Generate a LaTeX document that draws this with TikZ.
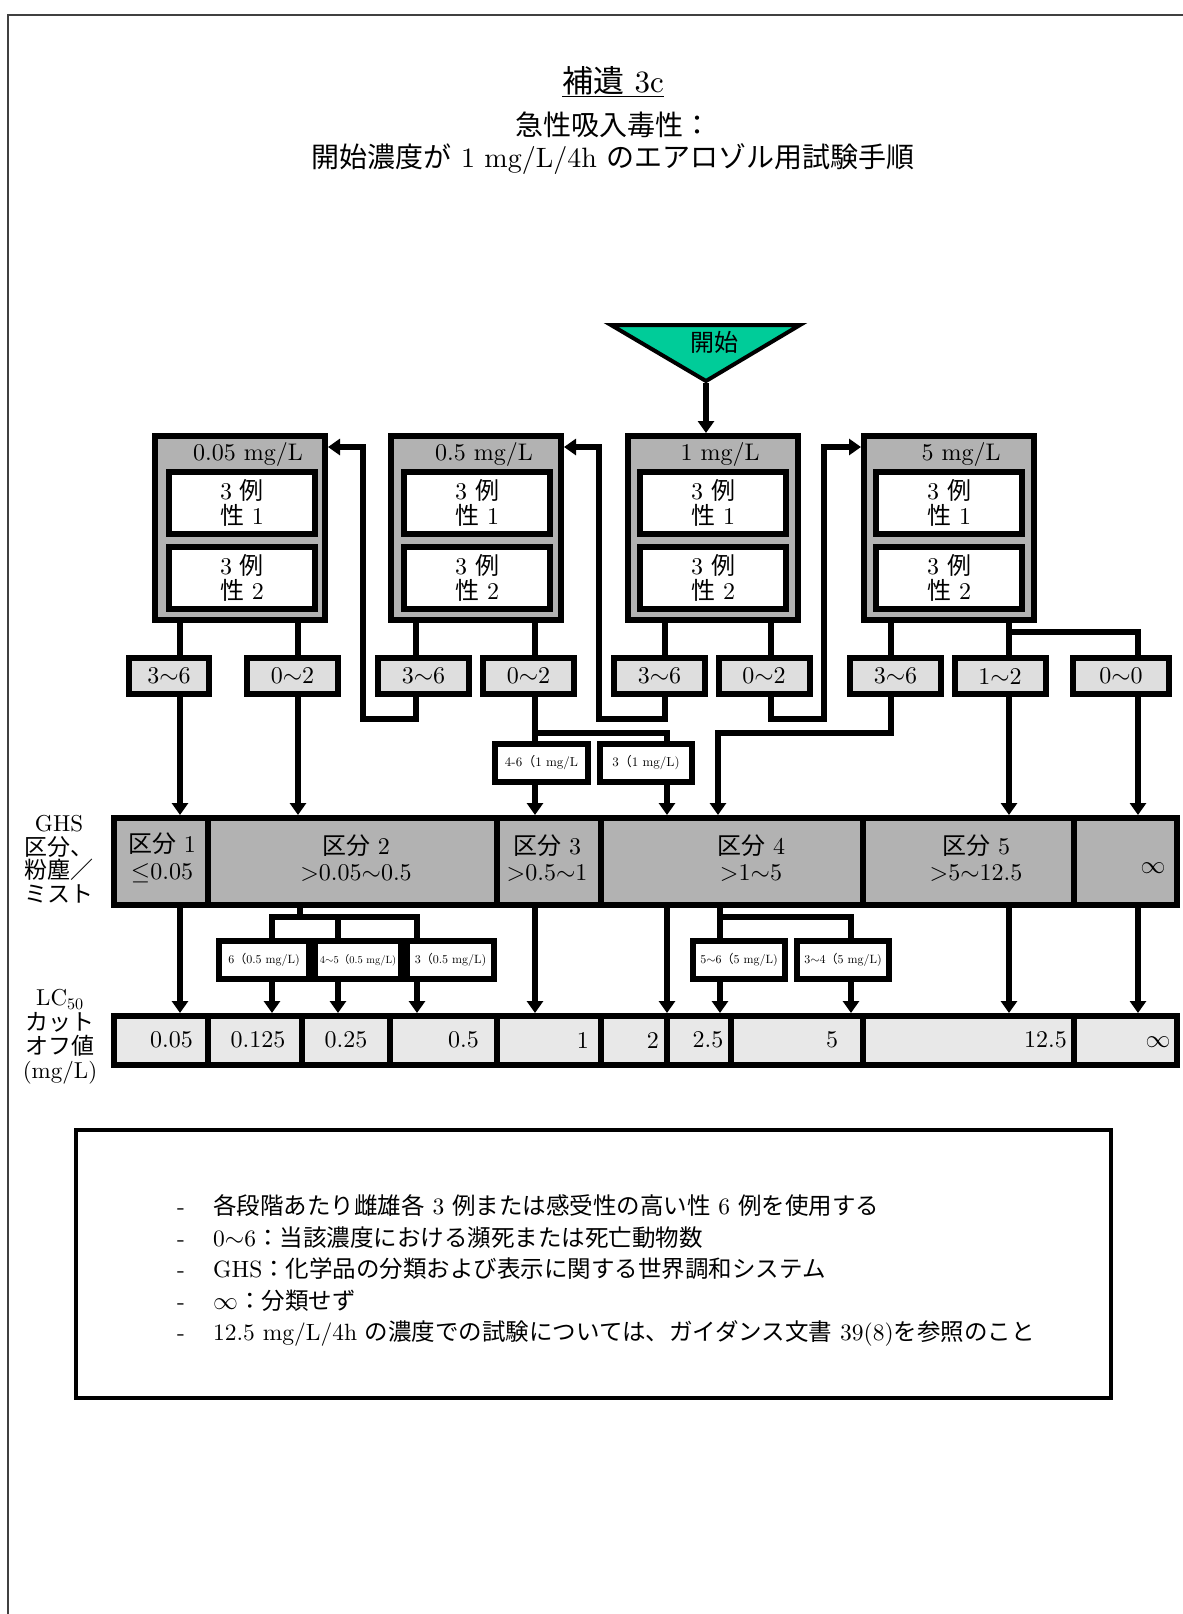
\documentclass[tikz,border=0pt]{standalone}
\usepackage{fontspec}
\setmainfont{lmroman10-regular.otf}
\newfontfamily\jp{Noto Sans CJK JP}
\usetikzlibrary{arrows.meta}
\definecolor{boxgray}{RGB}{178,178,178}
\definecolor{resgray}{RGB}{222,222,222}
\definecolor{lcgray}{RGB}{232,232,232}
\definecolor{startgreen}{RGB}{0,204,153}
\newcommand\fsz[2]{\fontsize{#1}{#2}\selectfont}
\begin{document}
\begin{tikzpicture}[x=1pt,y=-1pt,
  bigbox/.style={draw, line width=6pt, fill=boxgray, inner sep=0pt, minimum width=170pt, minimum height=184pt},
  inbox/.style={draw, line width=6pt, fill=white, inner sep=0pt, minimum width=146pt, minimum height=62pt, font=\fsz{24}{25}, align=center},
  resbox/.style={draw, line width=6pt, fill=resgray, inner sep=0pt, minimum width=91pt, minimum height=36pt, font=\fsz{24}{26}},
  smallbox/.style={draw, line width=6pt, fill=white, inner sep=0pt, minimum height=38pt},
  cell/.style={draw, line width=6pt, fill=boxgray, inner sep=0pt, minimum height=87pt},
  lccell/.style={draw, line width=6pt, fill=lcgray, inner sep=0pt, minimum height=49pt},
  lbl/.style={font=\fsz{24}{26.5}, inner sep=0pt, align=center},
  conn/.style={line width=6pt},
  arr/.style={conn, -{Triangle[length=12pt,width=16pt]}}]
\useasboundingbox (0,0) rectangle (1183,1614);
\fill[white] (0,0) rectangle (1183,1614);
\draw[line width=2pt, black!75] (8,1614) -- (8,15) -- (1183,15);

% title
\node[font=\fsz{31}{33}, inner sep=0pt] (title) at (613,82) {\underline{{\jp 補遺} 3c}};
\node[font=\fsz{28}{30}, inner sep=0pt] (sub1) at (613,125) {\jp 急性吸入毒性：};
\node[font=\fsz{28}{30}, inner sep=0pt] (sub2) at (613,159) {{\jp 開始濃度が} 1 mg/L/4h {\jp のエアロゾル用試験手順}};

% start
\draw[line width=4pt, fill=startgreen] (611,325) -- (800,325) -- (706,381) -- cycle;
\node[lbl] (start) at (714,342) {\jp 開始};
\coordinate (startapex) at (706,383);

% dose boxes
\node[bigbox] (boxA) at (240,528) {};
\node[lbl] (hA) at (248,454) {0.05 mg/L};
\node[inbox] (iA1) at (242,503) {3 {\jp 例}\\{\jp 性} 1};
\node[inbox] (iA2) at (242,577.5) {3 {\jp 例}\\{\jp 性} 2};
\node[bigbox] (boxB) at (476,528) {};
\node[lbl] (hB) at (484,454) {0.5 mg/L};
\node[inbox] (iB1) at (477,503) {3 {\jp 例}\\{\jp 性} 1};
\node[inbox] (iB2) at (477,577.5) {3 {\jp 例}\\{\jp 性} 2};
\node[bigbox] (boxC) at (713,528) {};
\node[lbl] (hC) at (720,454) {1 mg/L};
\node[inbox] (iC1) at (713,503) {3 {\jp 例}\\{\jp 性} 1};
\node[inbox] (iC2) at (713,577.5) {3 {\jp 例}\\{\jp 性} 2};
\node[bigbox] (boxD) at (949,528) {};
\node[lbl] (hD) at (961,454) {5 mg/L};
\node[inbox] (iD1) at (949,503) {3 {\jp 例}\\{\jp 性} 1};
\node[inbox] (iD2) at (949,577.5) {3 {\jp 例}\\{\jp 性} 2};

% result boxes
\node[resbox, minimum width=80pt] (rA1) at (169,676) {3$\sim$6};
\node[resbox] (rA2) at (292.5,676) {0$\sim$2};
\node[resbox] (rB1) at (423.5,676) {3$\sim$6};
\node[resbox] (rB2) at (528.5,676) {0$\sim$2};
\node[resbox] (rC1) at (659.5,676) {3$\sim$6};
\node[resbox] (rC2) at (764,676) {0$\sim$2};
\node[resbox] (rD1) at (895.5,676) {3$\sim$6};
\node[resbox] (rD2) at (1000,676) {1$\sim$2};
\node[resbox, minimum width=96pt] (rD3) at (1121,676) {0$\sim$0};

% small boxes (1 mg/L)
\node[smallbox, minimum width=93pt, font=\fsz{13}{14}] (s1) at (541.5,762.5) {4-6{\jp （}1 mg/L};
\node[smallbox, minimum width=92pt, font=\fsz{13}{14}] (s2) at (646,762.5) {3{\jp （}1 mg/L)};

% GHS category row
\node[cell, minimum width=94pt] (cat1) at (161,861.5) {};
\node[cell, minimum width=289pt] (cat2) at (352.5,861.5) {};
\node[cell, minimum width=104pt] (cat3) at (549,861.5) {};
\node[cell, minimum width=262pt] (cat4) at (732,861.5) {};
\node[cell, minimum width=211pt] (cat5) at (968.5,861.5) {};
\node[cell, minimum width=103pt] (cat6) at (1125.5,861.5) {};
\node[lbl] (ct1) at (162,858) {{\jp 区分} 1\\$\leq$0.05};
\node[lbl] (ct2) at (356,858) {{\jp 区分} 2\\>0.05$\sim$0.5};
\node[lbl] (ct3) at (547,858) {{\jp 区分} 3\\>0.5$\sim$1};
\node[lbl] (ct4) at (751,858) {{\jp 区分} 4\\>1$\sim$5};
\node[lbl] (ct5) at (976,858) {{\jp 区分} 5\\>5$\sim$12.5};
\node[lbl] (ct6) at (1153,868) {$\infty$};

% small boxes below categories
\node[smallbox, minimum width=90pt, font=\fsz{12}{13}] (t1) at (264,960) {6{\jp （}0.5 mg/L)};
\node[smallbox, minimum width=86pt, font=\fsz{10.5}{12}] (t2) at (358,960) {4$\sim$5{\jp （}0.5 mg/L)};
\node[smallbox, minimum width=87pt, font=\fsz{12}{13}] (t3) at (450.5,960) {3{\jp （}0.5 mg/L)};
\node[smallbox, minimum width=92pt, font=\fsz{12}{13}] (t4) at (739,960) {5$\sim$6{\jp （}5 mg/L)};
\node[smallbox, minimum width=92pt, font=\fsz{12}{13}] (t5) at (843,960) {3$\sim$4{\jp （}5 mg/L)};

% LC50 row
\node[lccell, minimum width=94pt] (lc1) at (161,1040.5) {};
\node[lccell, minimum width=94pt] (lc2) at (255,1040.5) {};
\node[lccell, minimum width=88pt] (lc3) at (346,1040.5) {};
\node[lccell, minimum width=107pt] (lc4) at (443.5,1040.5) {};
\node[lccell, minimum width=104pt] (lc5) at (549,1040.5) {};
\node[lccell, minimum width=66pt] (lc6) at (634,1040.5) {};
\node[lccell, minimum width=64pt] (lc7) at (699,1040.5) {};
\node[lccell, minimum width=132pt] (lc8) at (797,1040.5) {};
\node[lccell, minimum width=211pt] (lc9) at (968.5,1040.5) {};
\node[lccell, minimum width=103pt] (lc10) at (1125.5,1040.5) {};
\node[lbl, anchor=east] (v1) at (193,1040) {0.05};
\node[lbl] (v2) at (258,1040) {0.125};
\node[lbl] (v3) at (346,1040) {0.25};
\node[lbl, anchor=east] (v4) at (479,1040) {0.5};
\node[lbl, anchor=east] (v5) at (589,1040) {1};
\node[lbl, anchor=east] (v6) at (659,1040) {2};
\node[lbl] (v7) at (708,1040) {2.5};
\node[lbl] (v8) at (832,1040) {5};
\node[lbl, anchor=east] (v9) at (1067,1040) {12.5};
\node[lbl] (v10) at (1158,1042) {$\infty$};

% left labels
\node[lbl, font=\fsz{23}{23.5}] (ghslbl) at (59,859) {GHS\\{\jp 区分、}\\{\jp 粉塵／}\\{\jp ミスト}};
\node[lbl, font=\fsz{23}{24.2}] (lclbl) at (60,1037) {LC\textsubscript{50}\\{\jp カット}\\{\jp オフ値}\\(mg/L)};

% notes
\node[draw, line width=4pt, minimum width=1035pt, minimum height=268pt, inner sep=0pt] (notes) at (593.5,1264) {};
\node[anchor=west, align=left, font=\fsz{23.5}{31.5}, inner sep=0pt] (notetext) at (177,1270.5) {%
\makebox[36pt][l]{-}{\jp 各段階あたり雌雄各} 3 {\jp 例または感受性の高い性} 6 {\jp 例を使用する}\\
\makebox[36pt][l]{-}0$\sim$6{\jp ：当該濃度における瀕死または死亡動物数}\\
\makebox[36pt][l]{-}GHS{\jp ：化学品の分類および表示に関する世界調和システム}\\
\makebox[36pt][l]{-}$\infty${\jp ：分類せず}\\
\makebox[36pt][l]{-}12.5 mg/L/4h {\jp の濃度での試験については、ガイダンス文書} 39(8){\jp を参照のこと}};

% x positions
\coordinate (xa1) at (180,0);
\coordinate (xa2) at (298,0);
\coordinate (xb1) at (416,0);
\coordinate (xb2) at (535,0);
\coordinate (xc1) at (665,0);
\coordinate (xc2) at (771,0);
\coordinate (xd1) at (891,0);
\coordinate (xd2) at (1009,0);
\coordinate (xd3) at (1138,0);
\coordinate (xs2) at (667,0);
\coordinate (xk) at (718,0);
\coordinate (x2m) at (300,0);
\coordinate (xt1) at (272,0);
\coordinate (xt2) at (338,0);
\coordinate (xt3) at (417,0);
\coordinate (x4m) at (720,0);
\coordinate (xt5) at (851,0);
\coordinate (yh) at (0,447);
\coordinate (jD) at (1009,632);
\coordinate (jB) at (535,733);
\coordinate (j2) at (300,917);
\coordinate (j4) at (720,917);

% start arrow
\draw[arr] (startapex) -- (boxC.north -| startapex);

% box -> results
\draw[conn] (boxA.south -| xa1) -- (rA1.north -| xa1);
\draw[conn] (boxA.south -| xa2) -- (rA2.north -| xa2);
\draw[conn] (boxB.south -| xb1) -- (rB1.north -| xb1);
\draw[conn] (boxB.south -| xb2) -- (rB2.north -| xb2);
\draw[conn] (boxC.south -| xc1) -- (rC1.north -| xc1);
\draw[conn] (boxC.south -| xc2) -- (rC2.north -| xc2);
\draw[conn] (boxD.south -| xd1) -- (rD1.north -| xd1);
\draw[conn] (boxD.south -| xd2) -- (rD2.north -| xd2);
\draw[conn] (jD) -- (1138,632) -- (rD3.north -| xd3);

% loops back to other doses
\draw[arr] (rB1.south -| xb1) -- (416,719) -- (363,719) -- (363,447) -- (boxA.east |- yh);
\draw[arr] (rC1.south -| xc1) -- (665,719) -- (599,719) -- (599,447) -- (boxB.east |- yh);
\draw[arr] (rC2.south -| xc2) -- (771,719) -- (824,719) -- (824,447) -- (boxD.west |- yh);

% 0.5 mg/L 0~2 branch
\draw[conn] (rB2.south -| xb2) -- (s1.north -| xb2);
\draw[conn] (jB) -- (667,733) -- (s2.north -| xs2);

% results -> categories
\draw[arr] (rA1.south -| xa1) -- (cat1.north -| xa1);
\draw[arr] (rA2.south -| xa2) -- (cat2.north -| xa2);
\draw[arr] (s1.south -| xb2) -- (cat3.north -| xb2);
\draw[arr] (s2.south -| xs2) -- (cat4.north -| xs2);
\draw[arr] (rD1.south -| xd1) -- (891,733) -- (718,733) -- (cat4.north -| xk);
\draw[arr] (rD2.south -| xd2) -- (cat5.north -| xd2);
\draw[arr] (rD3.south -| xd3) -- (cat6.north -| xd3);

% categories -> LC50
\draw[arr] (cat1.south -| xa1) -- (lc1.north -| xa1);
\draw[conn] (cat2.south -| x2m) -- (j2);
\draw[conn] (t1.north -| xt1) -- (272,917) -- (417,917) -- (t3.north -| xt3);
\draw[conn] (338,917) -- (t2.north -| xt2);
\draw[arr] (t1.south -| xt1) -- (lc2.north -| xt1);
\draw[arr] (t2.south -| xt2) -- (lc3.north -| xt2);
\draw[arr] (t3.south -| xt3) -- (lc4.north -| xt3);
\draw[arr] (cat3.south -| xb2) -- (lc5.north -| xb2);
\draw[arr] (cat4.south -| xs2) -- (lc6.north -| xs2);
\draw[conn] (cat4.south -| x4m) -- (j4) -- (851,917) -- (t5.north -| xt5);
\draw[conn] (j4) -- (t4.north -| x4m);
\draw[arr] (t4.south -| x4m) -- (lc7.north -| x4m);
\draw[arr] (t5.south -| xt5) -- (lc8.north -| xt5);
\draw[arr] (cat5.south -| xd2) -- (lc9.north -| xd2);
\draw[arr] (cat6.south -| xd3) -- (lc10.north -| xd3);
\end{tikzpicture}
\end{document}
